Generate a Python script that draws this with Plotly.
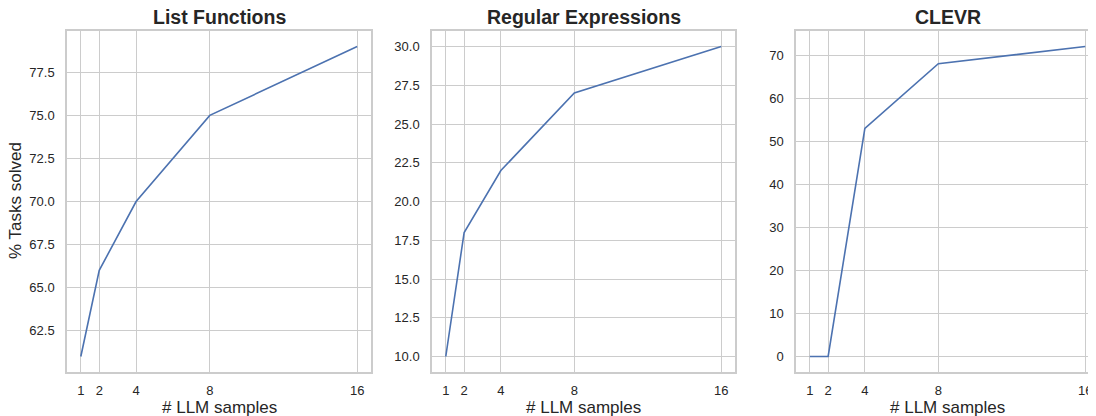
import plotly.graph_objects as go

samples = [1, 2, 4, 8, 16]
list_functions = [61, 66, 70, 75, 79]
regular_expressions = [10, 18, 22, 27, 30]
clevr = [0, 0, 53, 68, 72]
titles = ["List Functions", "Regular Expressions", "CLEVR"]
series = [list_functions, regular_expressions, clevr]
y_ticks = [
    [62.5, 65.0, 67.5, 70.0, 72.5, 75.0, 77.5],
    [10.0, 12.5, 15.0, 17.5, 20.0, 22.5, 25.0, 27.5, 30.0],
    [0, 10, 20, 30, 40, 50, 60, 70],
]
y_fmt = [".1f", ".1f", "d"]

W, H = 1096, 416
OFF = 8  # page body margin


def sx(p):
    return (p - OFF) / W


def sy(p):
    return 1 - (p - OFF) / H


px_domains = [(67, 371), (432, 735), (796, 1099)]
top_px, bot_px = 31, 372
FONT = "Liberation Sans, Arial, sans-serif"
TXT = "#262626"
GRID = "#cccccc"

fig = go.Figure()
annotations = []
for i, (title, vals) in enumerate(zip(titles, series)):
    n = "" if i == 0 else str(i + 1)
    fig.add_trace(go.Scatter(x=samples, y=vals, mode="lines",
                             line=dict(color="#4c72b0", width=1.6),
                             xaxis="x" + n, yaxis="y" + n, showlegend=False))
    lo, hi = min(vals), max(vals)
    m = (hi - lo) * 0.05
    xm = (max(samples) - min(samples)) * 0.05
    d0, d1 = px_domains[i]
    common = dict(showgrid=True, gridcolor=GRID, gridwidth=1, zeroline=False,
                  showline=True, linecolor=GRID, linewidth=1.5, mirror=True,
                  automargin=False,
                  tickfont=dict(family=FONT, size=13, color=TXT),
                  ticks="outside", tickcolor="rgba(0,0,0,0)")
    fig.layout["xaxis" + n] = dict(domain=[sx(d0), sx(d1)], anchor="y" + n,
                                   range=[min(samples) - xm, max(samples) + xm],
                                   tickvals=samples, ticklen=6, **common)
    fig.layout["yaxis" + n] = dict(domain=[sy(bot_px), sy(top_px)], anchor="x" + n,
                                   range=[lo - m, hi + m], tickvals=y_ticks[i],
                                   tickformat=y_fmt[i], ticklen=8, **common)
    cx = sx((d0 + d1) / 2)
    annotations.append(dict(text="<b>" + title + "</b>", x=cx, y=sy(17),
                            xref="paper", yref="paper", showarrow=False,
                            xanchor="center", yanchor="middle",
                            font=dict(family=FONT, size=19.5, color=TXT)))
    annotations.append(dict(text="# LLM samples", x=cx, y=sy(407),
                            xref="paper", yref="paper", showarrow=False,
                            xanchor="center", yanchor="middle",
                            font=dict(family=FONT, size=17, color=TXT)))

annotations.append(dict(text="% Tasks solved", x=sx(15), y=sy(201),
                        xref="paper", yref="paper", showarrow=False, textangle=-90,
                        xanchor="center", yanchor="middle",
                        font=dict(family=FONT, size=17, color=TXT)))

fig.update_layout(width=W, height=H, margin=dict(l=0, r=0, t=0, b=0),
                  paper_bgcolor="white", plot_bgcolor="white",
                  annotations=annotations)
fig.write_html("out.html")
